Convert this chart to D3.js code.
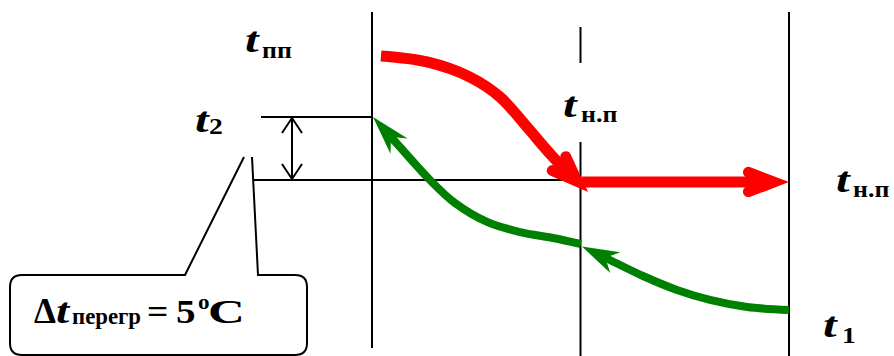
<!DOCTYPE html>
<html>
<head>
<meta charset="utf-8">
<script src="https://cdn.jsdelivr.net/npm/d3@7"></script>
<style>
  html, body { margin: 0; padding: 0; background: #fff; }
  svg { display: block; }
  text { font-family: "Liberation Serif", "Times New Roman", serif; font-weight: bold; fill: #000; }
</style>
</head>
<body>
<svg id="chart" width="894" height="356"></svg>
<script>
// ---------- data (x: section index between walls, y: temperature, °C) ----------
const walls = [0, 1, 2];                       // three vertical walls
const tSat = 40;                               // t н.п (saturation)
const tOutlet = 45;                            // t2
const superheat = tOutlet - tSat;              // Δt перегр = 5 °C

// hot stream (red): superheated vapour cooling, then condensing at constant t н.п
const hotCurveX = [0.043, 0.264, 0.470, 0.614, 0.743, 0.868, 1.036];
const hotCurveT = [49.84, 49.37, 48.17, 46.59, 44.21, 41.83, 39.05];
const hotFlatX  = [1.007, 2.0];
const hotFlatT  = [39.84, 39.84];

// cold stream (green): heated from t1 to t2 (counter-flow)
const coldRightX = [2.0, 1.799, 1.621, 1.463, 1.300, 1.141, 1.007];
const coldRightT = [29.68, 29.92, 30.48, 31.27, 32.38, 33.65, 34.72];
const coldLeftX  = [1.002, 0.868, 0.710, 0.552, 0.398, 0.278, 0.134, 0.005];
const coldLeftT  = [34.92, 35.40, 35.87, 36.67, 38.17, 40.0, 42.62, 45.0];

const labelSubs = ["пп", "2", "н.п", "н.п", "1"];
const calloutText = ["Δ", "t", "перегр", "=", String(superheat), "o", "C"];

// ---------- scales ----------
const svg = d3.select("#chart");
const x = d3.scaleLinear().domain([0, 2]).range([372, 789]);
const y = d3.scaleLinear().domain([tSat, tOutlet]).range([180, 117]);

const RED = "#ff0000", GREEN = "#008000";
const zip = (xs, ts) => xs.map((v, i) => [v, ts[i]]);
const line = d3.line().x(d => x(d[0])).y(d => y(d[1])).curve(d3.curveCatmullRom.alpha(0.5));
const straight = d3.line().x(d => x(d[0])).y(d => y(d[1]));

// ---------- walls ----------
const wallSegs = [
  { w: 0, y0: 12, y1: 348 },
  { w: 1, y0: 27, y1: 63 },
  { w: 1, y0: 142, y1: 356 },
  { w: 2, y0: 12, y1: 356 }
];
svg.append("g").selectAll("line").data(wallSegs).join("line")
  .attr("x1", d => x(walls[d.w])).attr("x2", d => x(walls[d.w]))
  .attr("y1", d => d.y0).attr("y2", d => d.y1)
  .attr("stroke", "#000").attr("stroke-width", 2);

// ---------- reference lines t2 and t н.п ----------
svg.append("line").attr("x1", 261).attr("x2", x(walls[0]))
  .attr("y1", y(tOutlet)).attr("y2", y(tOutlet)).attr("stroke", "#000").attr("stroke-width", 2);
svg.append("line").attr("x1", 254).attr("x2", x(walls[1]))
  .attr("y1", y(tSat)).attr("y2", y(tSat)).attr("stroke", "#000").attr("stroke-width", 2);

// dimension double arrow
const dimX = 292;
const ya = y(tOutlet) + 1, yb = y(tSat) - 1;
svg.append("line").attr("x1", dimX).attr("x2", dimX).attr("y1", ya).attr("y2", yb)
  .attr("stroke", "#000").attr("stroke-width", 2);
svg.append("path").attr("d", `M${dimX - 10},${ya + 15} L${dimX},${ya} L${dimX + 10},${ya + 15}`)
  .attr("fill", "none").attr("stroke", "#000").attr("stroke-width", 2);
svg.append("path").attr("d", `M${dimX - 10},${yb - 15} L${dimX},${yb} L${dimX + 10},${yb - 15}`)
  .attr("fill", "none").attr("stroke", "#000").attr("stroke-width", 2);

// ---------- helpers ----------
function drawShaft(pts, gen, color, width, hide) {
  const p = svg.append("path").attr("d", gen(pts)).attr("fill", "none")
    .attr("stroke", color).attr("stroke-width", width);
  const node = p.node();
  const L = node.getTotalLength();
  p.attr("stroke-dasharray", `${L - hide} ${L + 10}`);
  const tip = node.getPointAtLength(L);
  const back = node.getPointAtLength(L - 14);
  let dx = tip.x - back.x, dy = tip.y - back.y;
  const m = Math.hypot(dx, dy); dx /= m; dy /= m;
  return { tip, dx, dy };
}
function chevron(a, color, w, alpha, len) {
  const off = (w / 2) / Math.sin(alpha);
  const P = { x: a.tip.x - off * a.dx, y: a.tip.y - off * a.dy };
  const arm = s => {
    const c = Math.cos(s * alpha), sn = Math.sin(s * alpha);
    const rx = -(a.dx * c - a.dy * sn), ry = -(a.dx * sn + a.dy * c);
    return [P.x + len * rx, P.y + len * ry];
  };
  const A1 = arm(1), A2 = arm(-1);
  svg.append("path").attr("d", `M${A1[0]},${A1[1]} L${P.x},${P.y} L${A2[0]},${A2[1]}`)
    .attr("fill", "none").attr("stroke", color).attr("stroke-width", w)
    .attr("stroke-linecap", "round").attr("stroke-linejoin", "miter").attr("stroke-miterlimit", 10);
}
function stealth(a, color, len, hw, notch) {
  const nx = -a.dy, ny = a.dx;
  const T = a.tip;
  const B1 = [T.x - len * a.dx + hw * nx, T.y - len * a.dy + hw * ny];
  const B2 = [T.x - len * a.dx - hw * nx, T.y - len * a.dy - hw * ny];
  const N = [T.x - notch * a.dx, T.y - notch * a.dy];
  svg.append("path").attr("d", `M${T.x},${T.y} L${B1[0]},${B1[1]} L${N[0]},${N[1]} L${B2[0]},${B2[1]} Z`)
    .attr("fill", color);
}
function glyph(g, s, px, py, fs, sx, italic) {
  g.append("text").attr("transform", `translate(${px},${py}) scale(${sx},1)`)
    .attr("font-size", fs).attr("font-style", italic ? "italic" : "normal").text(s);
}

// ---------- cold stream (green) ----------
const gR = drawShaft(zip(coldRightX, coldRightT), line, GREEN, 8, 18);
stealth(gR, GREEN, 37, 11.6, 26);
const gL = drawShaft(zip(coldLeftX, coldLeftT), line, GREEN, 8, 18);
stealth(gL, GREEN, 39, 11.5, 27);

// ---------- hot stream (red) ----------
const rF = drawShaft(zip(hotFlatX, hotFlatT), straight, RED, 11, 16);
chevron(rF, RED, 11, 21 * Math.PI / 180, 27);
const rC = drawShaft(zip(hotCurveX, hotCurveT), line, RED, 11, 16);
chevron(rC, RED, 11, 21 * Math.PI / 180, 27);

// ---------- labels ----------
const labelPos = [
  { x: 245, yb: 52, sx: 262, sb: 58 },
  { x: 195, yb: 132, sx: 209, sb: 134 },
  { x: 563, yb: 117, sx: 581, sb: 122 },
  { x: 836, yb: 192, sx: 853, sb: 197 },
  { x: 823, yb: 337, sx: 842, sb: 343 }
];
const lg = svg.append("g");
labelSubs.forEach((sub, i) => {
  const d = labelPos[i];
  glyph(lg, "t", d.x, d.yb, 35, 1.4, true);
  glyph(lg, sub, d.sx, d.sb, 24, sub.length > 1 ? 1.08 : 1.15, false);
});

// ---------- callout ----------
svg.append("path")
  .attr("d", "M244,157 L185,275 H22 Q10,275 10,287 V343 Q10,355 22,355 H295 Q307,355 307,343 V287 Q307,275 295,275 H258 L252,157")
  .attr("fill", "none").attr("stroke", "#000").attr("stroke-width", 2);
const cg = svg.append("g");
const cpos = [
  { x: 34, y: 323, fs: 35, sx: 1.0, it: false },
  { x: 56, y: 323, fs: 35, sx: 1.35, it: true },
  { x: 72, y: 324, fs: 24, sx: 0.95, it: false },
  { x: 147, y: 323, fs: 34, sx: 1.1, it: false },
  { x: 176, y: 323, fs: 34, sx: 1.15, it: false },
  { x: 198, y: 309, fs: 22, sx: 1.05, it: false },
  { x: 208, y: 323, fs: 34, sx: 1.5, it: false }
];
calloutText.forEach((s, i) => {
  const p = cpos[i];
  glyph(cg, s, p.x, p.y, p.fs, p.sx, p.it);
});
</script>
</body>
</html>
